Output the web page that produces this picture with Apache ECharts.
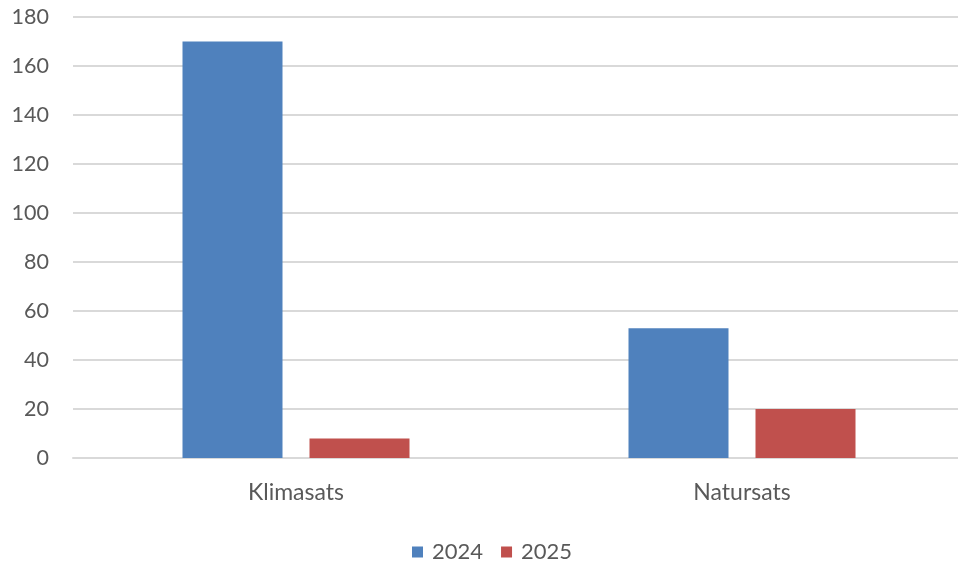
<!DOCTYPE html>
<html>
<head>
<meta charset="utf-8">
<script src="https://cdn.jsdelivr.net/npm/echarts@6/dist/echarts.min.js"></script>
<style>
  html, body { margin: 0; padding: 0; background: #fff; }
  #chart { width: 958px; height: 563px; }
</style>
</head>
<body>
<div id="chart"></div>
<script>
const categories = ['Klimasats', 'Natursats'];
const values2024 = [170, 53];
const values2025 = [8, 20];
const yTicks = [0, 180, 20];

const textColor = '#595959';
const font = 'Lato';

let chart = echarts.init(document.getElementById('chart'));
chart.setOption({
  animation: false,
  textStyle: { fontFamily: font },
  grid: { left: 73, top: 17, width: 892, height: 441, containLabel: false, outerBoundsMode: 'none' },
  legend: {
    top: 541,
    left: 412,
    padding: 0,
    itemWidth: 11,
    itemHeight: 11,
    itemGap: 18,
    icon: 'rect',
    textStyle: { color: textColor, fontSize: 22, fontFamily: font, padding: [0, 0, 0, 4] },
    data: ['2024', '2025']
  },
  xAxis: {
    type: 'category',
    data: categories,
    axisLine: { lineStyle: { color: '#d9d9d9', width: 2 } },
    axisTick: { show: false },
    axisLabel: { color: textColor, fontSize: 23, margin: 23 }
  },
  yAxis: {
    type: 'value',
    min: yTicks[0],
    max: yTicks[1],
    interval: yTicks[2],
    axisLine: { show: false },
    axisTick: { show: false },
    splitLine: { lineStyle: { color: '#d9d9d9', width: 2 } },
    axisLabel: { color: textColor, fontSize: 21.5, margin: 24 }
  },
  series: [
    {
      name: '2024',
      type: 'bar',
      data: values2024,
      barWidth: 100,
      barGap: '27%',
      itemStyle: { color: '#4F81BD' }
    },
    {
      name: '2025',
      type: 'bar',
      data: values2025,
      barWidth: 100,
      itemStyle: { color: '#C0504D' }
    }
  ]
});
</script>
</body>
</html>
